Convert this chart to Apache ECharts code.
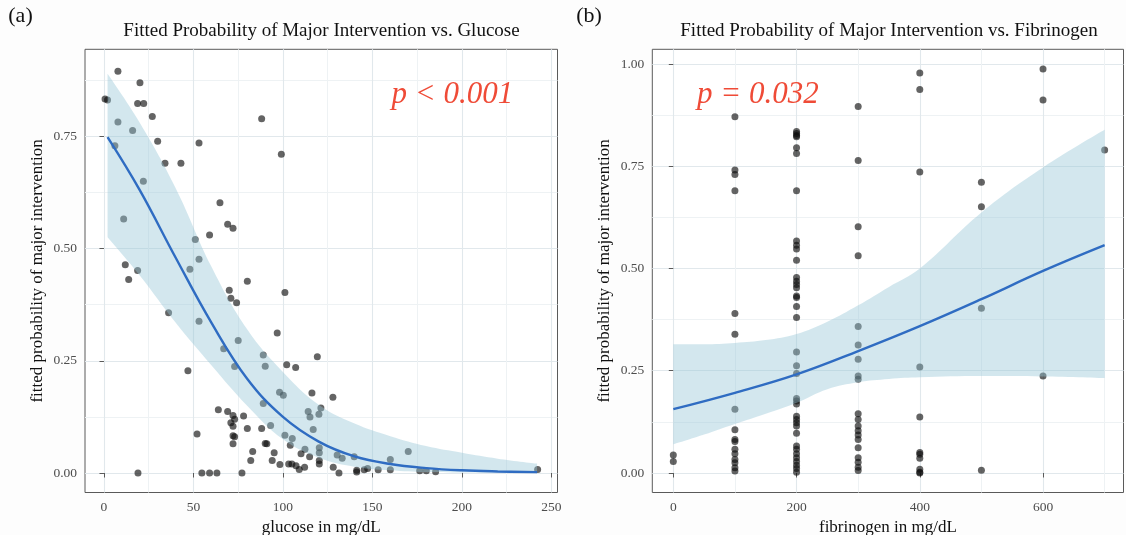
<!DOCTYPE html>
<html>
<head>
<meta charset="utf-8">
<title>Fitted Probability of Major Intervention</title>
<script src="https://cdn.jsdelivr.net/npm/echarts@6.0.0/dist/echarts.min.js"></script>
<style>
  html, body { margin: 0; padding: 0; background: #fdfdfd; }
  #chart { width: 1126px; height: 535px; }
</style>
</head>
<body>
<div id="chart"></div>
<script>
// (a) glucose — observed points
const glucoseX = [7.8, 20.1, 0.6, 2.0, 18.8, 22.2, 27.0, 7.8, 16.0, 88.1, 6.1, 30.0, 53.1, 34.1, 43.0, 99.1, 22.0, 64.8, 11.0, 69.1,
  72.1, 59.0, 51.0, 53.1, 11.9, 18.8, 48.0, 13.8, 80.1, 70.0, 70.9, 74.1, 101.1, 36.1, 53.1, 96.8, 75.0, 66.9, 89.0, 119.2,
  73.0, 90.1, 102.1, 107.1, 46.9, 98.1, 100.2, 116.2, 127.9, 89.0, 121.2, 114.1, 120.1, 115.1, 63.9, 69.1, 72.1, 78.0, 73.0, 70.9,
  72.1, 80.1, 88.1, 93.1, 116.9, 52.0, 72.1, 73.0, 101.1, 105.2, 72.1, 90.1, 91.0, 104.1, 112.3, 120.3, 120.3, 83.1, 95.1, 110.1,
  114.9, 130.3, 133.1, 139.8, 170.0, 160.0, 82.0, 94.0, 98.3, 103.2, 105.0, 107.3, 109.1, 112.1, 120.3, 120.3, 128.1, 131.3, 141.2, 141.2,
  145.4, 147.3, 153.2, 160.0, 176.4, 180.1, 185.3, 242.3, 19.0, 54.7, 59.0, 63.1, 77.1]
const glucoseProb = [0.895, 0.869, 0.833, 0.831, 0.823, 0.823, 0.794, 0.782, 0.763, 0.789, 0.729, 0.739, 0.735, 0.690, 0.690, 0.710, 0.650, 0.602, 0.566, 0.554,
  0.545, 0.530, 0.520, 0.476, 0.464, 0.451, 0.454, 0.431, 0.427, 0.407, 0.389, 0.379, 0.402, 0.357, 0.338, 0.312, 0.295, 0.277, 0.263, 0.259,
  0.237, 0.238, 0.241, 0.235, 0.228, 0.180, 0.173, 0.178, 0.169, 0.155, 0.145, 0.137, 0.131, 0.125, 0.141, 0.137, 0.128, 0.127, 0.120, 0.112,
  0.104, 0.099, 0.099, 0.106, 0.097, 0.087, 0.083, 0.081, 0.084, 0.077, 0.065, 0.066, 0.065, 0.062, 0.053, 0.056, 0.045, 0.048, 0.045, 0.043,
  0.036, 0.040, 0.033, 0.036, 0.048, 0.030, 0.028, 0.028, 0.019, 0.020, 0.020, 0.016, 0.008, 0.013, 0.028, 0.020, 0.013, 0.000, 0.006, 0.002,
  0.007, 0.010, 0.007, 0.007, 0.005, 0.005, 0.003, 0.008, 0, 0, 0, 0, 0]
// (a) fitted curve and confidence band
const glucoseFitX = [2, 20, 40, 60, 80, 100, 120, 140, 160, 180, 200, 220, 242]
const glucoseFit = [0.748, 0.63, 0.48, 0.335, 0.21, 0.125, 0.07, 0.037, 0.02, 0.011, 0.006, 0.0035, 0.002]
const glucoseUpper = [0.889, 0.78, 0.635, 0.46, 0.32, 0.225, 0.152, 0.11, 0.082, 0.06, 0.045, 0.032, 0.021]
const glucoseLower = [0.525, 0.44, 0.335, 0.24, 0.15, 0.075, 0.034, 0.014, 0.006, 0.002, 0.001, 0.0005, 0.0002]
const glucoseTicks = [0, 50, 100, 150, 200, 250]
const glucoseMinor = [25, 75, 125, 175, 225]
const probTicksA = [0, 0.25, 0.5, 0.75]

// (b) fibrinogen — observed points
const fibX = [0, 0,
  100, 100, 100, 100, 100, 100, 100, 100, 100, 100, 100, 100, 100, 100, 100, 100,
  200, 200, 200, 200, 200, 200, 200, 200, 200, 200, 200, 200, 200, 200, 200, 200, 200, 200, 200, 200,
  200, 200, 200, 200, 200, 200, 200, 200, 200, 200, 200, 200, 200, 200, 200, 200, 200, 200,
  300, 300, 300, 300, 300, 300, 300, 300, 300, 300, 300, 300, 300, 300, 300, 300, 300, 300, 300, 300,
  400, 400, 400, 400, 400, 400, 400, 400, 400, 400, 400,
  500, 500, 500, 500,
  600, 600, 600,
  700]
const fibProb = [0.044, 0.028,
  0.871, 0.741, 0.730, 0.690, 0.390, 0.339, 0.156, 0.106, 0.082, 0.077, 0.058, 0.047, 0.033, 0.025, 0.013, 0.005,
  0.835, 0.830, 0.825, 0.822, 0.795, 0.781, 0.690, 0.567, 0.557, 0.548, 0.520, 0.478, 0.469, 0.461, 0.453, 0.433, 0.429, 0.407, 0.380,
  0.296, 0.262, 0.243, 0.182, 0.176, 0.169, 0.139, 0.131, 0.123, 0.115, 0.097, 0.066, 0.058, 0.047, 0.037, 0.028, 0.019, 0.011, 0.002,
  0.896, 0.764, 0.602, 0.531, 0.358, 0.313, 0.278, 0.237, 0.229, 0.145, 0.131, 0.115, 0.103, 0.093, 0.082, 0.062, 0.037, 0.026, 0.014, 0.006,
  0.978, 0.938, 0.736, 0.259, 0.137, 0.050, 0.046, 0.036, 0.009, 0.002, 0.000,
  0.711, 0.651, 0.403, 0.007,
  0.988, 0.912, 0.237,
  0.790]
// (b) fitted curve and confidence band
const fibFitX = [0, 100, 200, 300, 400, 500, 600, 700]
const fibFit = [0.156, 0.196, 0.241, 0.298, 0.359, 0.425, 0.494, 0.557]
const fibBandX = [0, 50, 100, 150, 200, 250, 300, 350, 400, 500, 600, 700]
const fibUpper = [0.315, 0.315, 0.318, 0.325, 0.34, 0.37, 0.41, 0.455, 0.50, 0.637, 0.747, 0.839]
const fibLower = [0.070, 0.094, 0.12, 0.145, 0.172, 0.205, 0.222, 0.23, 0.234, 0.237, 0.236, 0.232]
const fibTicks = [0, 200, 400, 600]
const fibMinor = [100, 300, 500, 700]
const probTicksB = [0, 0.25, 0.5, 0.75, 1]
const probMinor = [0.125, 0.375, 0.625, 0.875]

const serif = 'Liberation Serif'
const majorGrid = '#e1e8ec'
const minorGrid = '#eef2f4'
const frame = '#5a5a5a'
const ribbon = 'rgba(150,198,215,0.42)'

const pairs = (xs, ys) => xs.map((x, i) => [x, ys[i]])

// 主轴：刻度、标签、主网格线
const mainAxis = (gridIndex, min, max, ticks, fmt, name, gap) => ({
  gridIndex, type: 'value', min, max,
  name, nameLocation: 'middle', nameGap: gap,
  nameTextStyle: { fontFamily: serif, fontSize: 17, color: '#111', verticalAlign: 'middle' },
  axisLine: { show: false },
  axisTick: { show: true, customValues: ticks, length: 4.5, lineStyle: { color: frame, width: 1 } },
  axisLabel: { customValues: ticks, formatter: fmt, fontFamily: serif, fontSize: 13.5, color: '#4d4d4d' },
  splitLine: { show: true, lineStyle: { color: majorGrid, width: 1.1 } }
})
// 次网格线（隐藏的第二根轴）
const minorAxis = (gridIndex, min, max, ticks) => ({
  gridIndex, type: 'value', min, max,
  axisLine: { show: false },
  axisTick: { show: false, customValues: ticks },
  axisLabel: { show: false, customValues: ticks },
  splitLine: { show: true, lineStyle: { color: minorGrid, width: 1 } }
})

// 置信带：数据写成 [y, x]，让堆叠落在 y 维上
const band = (idx, xs, lo, hi) => [
  {
    type: 'line', xAxisIndex: idx * 2, yAxisIndex: idx * 2, stack: 'band' + idx,
    data: xs.map((x, i) => [lo[i], x]), encode: { x: 1, y: 0 },
    smooth: 0.4, symbol: 'none', lineStyle: { opacity: 0 }, silent: true, z: 3
  },
  {
    type: 'line', xAxisIndex: idx * 2, yAxisIndex: idx * 2, stack: 'band' + idx,
    data: xs.map((x, i) => [hi[i] - lo[i], x]), encode: { x: 1, y: 0 },
    smooth: 0.4, symbol: 'none', lineStyle: { opacity: 0 },
    areaStyle: { color: ribbon, opacity: 1 }, silent: true, z: 3
  }
]
const points = (idx, xs, ys) => ({
  type: 'scatter', xAxisIndex: idx * 2, yAxisIndex: idx * 2,
  data: pairs(xs, ys), symbolSize: 7,
  itemStyle: { color: 'rgba(12,12,12,0.8)' }, silent: true, z: 2
})
const fit = (idx, xs, ys) => ({
  type: 'line', xAxisIndex: idx * 2, yAxisIndex: idx * 2,
  data: pairs(xs, ys), smooth: 0.4, symbol: 'none',
  lineStyle: { color: '#2f6cc2', width: 2.4 }, silent: true, z: 4
})

const txt = (text, x, y, size, extra) => ({
  type: 'text', x, y, z: 20, silent: true,
  style: Object.assign({ text, fontFamily: serif, fontSize: size, fill: '#111', align: 'center', verticalAlign: 'middle' }, extra || {})
})

const chart = echarts.init(document.getElementById('chart'))
chart.setOption({
  animation: false,
  backgroundColor: '#fdfdfd',
  grid: [
    { left: 85, top: 49.3, width: 472.5, height: 443.2, show: true, backgroundColor: '#ffffff', borderColor: frame, borderWidth: 1, outerBoundsMode: 'none' },
    { left: 652.3, top: 49.3, width: 471.2, height: 443.2, show: true, backgroundColor: '#ffffff', borderColor: frame, borderWidth: 1, outerBoundsMode: 'none' }
  ],
  xAxis: [
    mainAxis(0, -10.6, 253.4, glucoseTicks, v => String(v), 'glucose in mg/dL', 29.5),
    minorAxis(0, -10.6, 253.4, glucoseMinor),
    mainAxis(1, -34.1, 730.6, fibTicks, v => String(v), 'fibrinogen in mg/dL', 29.5),
    minorAxis(1, -34.1, 730.6, fibMinor)
  ],
  yAxis: [
    mainAxis(0, -0.0434, 0.9437, probTicksA, v => v.toFixed(2), 'fitted probability of major intervention', 47.5),
    minorAxis(0, -0.0434, 0.9437, probMinor),
    mainAxis(1, -0.0477, 1.036, probTicksB, v => v.toFixed(2), 'fitted probability of major intervention', 47.5),
    minorAxis(1, -0.0477, 1.036, probMinor)
  ],
  series: [
    points(0, glucoseX, glucoseProb),
    ...band(0, glucoseFitX, glucoseLower, glucoseUpper),
    fit(0, glucoseFitX, glucoseFit),
    points(1, fibX, fibProb),
    ...band(1, fibBandX, fibLower, fibUpper),
    fit(1, fibFitX, fibFit)
  ],
  graphic: [
    txt('(a)', 20.5, 16.5, 22),
    txt('(b)', 589, 16.5, 22),
    txt('Fitted Probability of Major Intervention vs. Glucose', 321.5, 31.5, 19),
    txt('Fitted Probability of Major Intervention vs. Fibrinogen', 889, 31.5, 19),
    txt('p < 0.001', 391.5, 95, 31, { align: 'left', fill: '#ef4b37', fontStyle: 'italic' }),
    txt('p = 0.032', 697, 95, 31, { align: 'left', fill: '#ef4b37', fontStyle: 'italic' })
  ]
})
</script>
</body>
</html>
